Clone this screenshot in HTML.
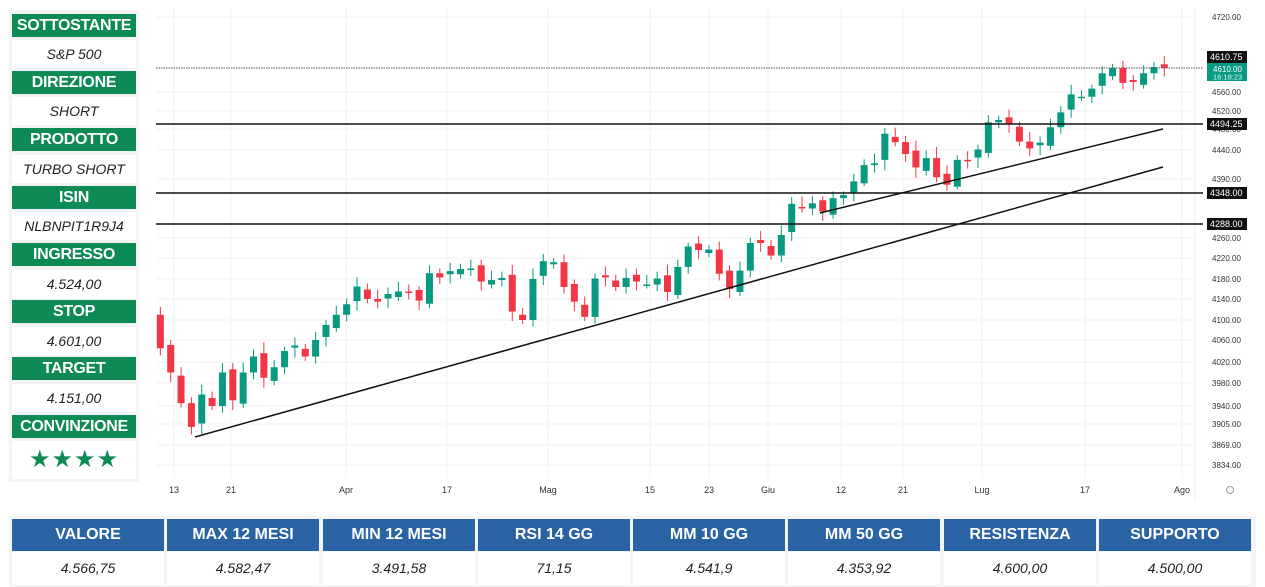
<!DOCTYPE html><html><head><meta charset="utf-8"><style>
html,body{margin:0;width:1265px;height:587px;overflow:hidden}
body{background:#fff;font-family:"Liberation Sans",sans-serif;position:relative}
.lp{position:absolute;left:9px;top:10px;width:130px;height:472px;background:#f3f5f4}
.h{position:absolute;left:12px;width:124px;height:23px;background:#0e8a55;color:#fff;font-weight:bold;font-size:16px;text-align:center;line-height:23px;letter-spacing:-0.3px}
.v{position:absolute;left:12px;width:124px;height:28px;background:#fff;color:#222;font-style:italic;font-size:14px;text-align:center;line-height:28px}
.bt{position:absolute;top:516px;left:9px;width:1247px;height:71px;background:#f3f5f4}
.bh{position:absolute;top:519px;height:32px;background:#2a63a3;color:#fff;font-weight:bold;font-size:16px;text-align:center;line-height:32px;width:152px}
.bv{position:absolute;top:552px;height:33px;background:#fff;color:#222;font-style:italic;font-size:14px;text-align:center;line-height:33px;width:152px}
svg{position:absolute;left:0;top:0}
</style></head><body>
<div class="lp"></div>
<div class="h" style="top:14px">SOTTOSTANTE</div><div class="v" style="top:40px">S&amp;P 500</div>
<div class="h" style="top:71px">DIREZIONE</div><div class="v" style="top:97px">SHORT</div>
<div class="h" style="top:128px">PRODOTTO</div><div class="v" style="top:155px">TURBO SHORT</div>
<div class="h" style="top:186px">ISIN</div><div class="v" style="top:212px">NLBNPIT1R9J4</div>
<div class="h" style="top:243px">INGRESSO</div><div class="v" style="top:270px">4.524,00</div>
<div class="h" style="top:300px">STOP</div><div class="v" style="top:327px">4.601,00</div>
<div class="h" style="top:357px">TARGET</div><div class="v" style="top:384px">4.151,00</div>
<div class="h" style="top:415px">CONVINZIONE</div><div class="v" style="top:441px;height:38px;line-height:38px;font-style:normal;color:#0e8a55;font-size:24px;letter-spacing:1px">★★★★</div>
<div class="bt"></div>
<div class="bh" style="left:12px">VALORE</div><div class="bv" style="left:12px">4.566,75</div>
<div class="bh" style="left:167px">MAX 12 MESI</div><div class="bv" style="left:167px">4.582,47</div>
<div class="bh" style="left:323px">MIN 12 MESI</div><div class="bv" style="left:323px">3.491,58</div>
<div class="bh" style="left:478px">RSI 14 GG</div><div class="bv" style="left:478px">71,15</div>
<div class="bh" style="left:633px">MM 10 GG</div><div class="bv" style="left:633px">4.541,9</div>
<div class="bh" style="left:788px">MM 50 GG</div><div class="bv" style="left:788px">4.353,92</div>
<div class="bh" style="left:944px">RESISTENZA</div><div class="bv" style="left:944px">4.600,00</div>
<div class="bh" style="left:1099px">SUPPORTO</div><div class="bv" style="left:1099px">4.500,00</div>
<svg id="s" width="1265" height="505" xmlns="http://www.w3.org/2000/svg" font-family="Liberation Sans, sans-serif"></svg>
<script>
var T=[[4720,17],[4610,68],[4560,92],[4520,111],[4480,129],[4440,150],[4390,179],[4348,193],[4288,224],[4260,238],[4220,258],[4180,279],[4140,299],[4100,320],[4060,340],[4020,362],[3980,383],[3940,406],[3905,424],[3869,445],[3834,465]];
function Y(p){for(var i=0;i<T.length-1;i++){var a=T[i],b=T[i+1];if(p<=a[0]&&p>=b[0])return a[1]+(a[0]-p)/(a[0]-b[0])*(b[1]-a[1]);}return p>4720?17-(p-4720)*0.5:465+(3834-p)*0.55;}
var c=[4110,4045,4000,3945,3900,3960,3940,4000,3950,4000,4030,3990,4010,4040,4050,4030,4060,4090,4110,4130,4165,4140,4135,4150,4155,4152,4137,4191,4183,4195,4199,4200,4175,4178,4182,4116,4100,4180,4214,4212,4164,4135,4106,4181,4183,4164,4182,4175,4169,4181,4154,4203,4243,4236,4237,4190,4160,4196,4250,4250,4225,4266,4327,4318,4328,4312,4338,4344,4383,4414,4417,4471,4455,4433,4410,4426,4393,4373,4423,4421,4441,4495,4500,4491,4456,4443,4454,4484,4517,4555,4550,4567,4599,4610,4579,4581,4599,4612,4610];
var s='',st=document.getElementById('s');
for(var i=0;i<T.length;i++){if([4610,4348,4288].indexOf(T[i][0])<0)s+='<line x1="156" x2="1195" y1="'+T[i][1]+'" y2="'+T[i][1]+'" stroke="#f0f2f5"/>';}
var xl=[[174,'13'],[231,'21'],[346,'Apr'],[447,'17'],[548,'Mag'],[650,'15'],[709,'23'],[768,'Giu'],[841,'12'],[903,'21'],[982,'Lug'],[1085,'17'],[1182,'Ago']];
xl.forEach(function(a){s+='<line x1="'+a[0]+'" x2="'+a[0]+'" y1="8" y2="478" stroke="#f0f2f5"/><text x="'+a[0]+'" y="493" font-size="9" fill="#333" text-anchor="middle">'+a[1]+'</text>';});
s+='<line x1="1195" x2="1195" y1="8" y2="500" stroke="#eee"/>';
for(var i=1;i<c.length;i++){var o=c[i-1]+(i%3-1)*6,cl=c[i],x=150+i*10.35,up=cl>=o,col=up?'#089981':'#f23645';
var hi=Math.max(o,cl)+8+(i*7%13),lo=Math.min(o,cl)-8-(i*5%15);
var y1=Y(Math.max(o,cl)),y2=Y(Math.min(o,cl));if(y2-y1<1.5)y2=y1+1.5;
s+='<line x1="'+x+'" x2="'+x+'" y1="'+Y(hi)+'" y2="'+Y(lo)+'" stroke="'+col+'"/><rect x="'+(x-3.5)+'" y="'+y1+'" width="7" height="'+(y2-y1)+'" fill="'+col+'"/>';}
s+='<line x1="156" x2="1203" y1="68" y2="68" stroke="#555" stroke-dasharray="1.5 1"/>';
[124,193,224].forEach(function(y){s+='<line x1="156" x2="1203" y1="'+y+'" y2="'+y+'" stroke="#111" stroke-width="1.6"/>';});
s+='<line x1="195" y1="437" x2="1163" y2="167" stroke="#111" stroke-width="1.5"/><line x1="820" y1="213" x2="1163" y2="129" stroke="#111" stroke-width="1.5"/>';
T.forEach(function(a){if([4610,4348,4288].indexOf(a[0])<0)s+='<text x="1212" y="'+(a[1]+3)+'" font-size="8" fill="#333">'+a[0].toFixed(2)+'</text>';});
s+='<rect x="1207" y="63" width="40" height="18" fill="#089981"/><text x="1213" y="72" font-size="8" fill="#fff">4610.00</text><text x="1213" y="79.5" font-size="7.5" fill="#e0fff5">16:18:23</text>';
[[57,'4610.75'],[124,'4494.25'],[193,'4348.00'],[224,'4288.00']].forEach(function(a){s+='<rect x="1207" y="'+(a[0]-6)+'" width="40" height="12" fill="#111"/><text x="1210" y="'+(a[0]+3)+'" font-size="9" fill="#fff">'+a[1]+'</text>';});
s+='<circle cx="1230" cy="490" r="3.5" fill="none" stroke="#999"/>';
st.innerHTML=s;
</script>
</body></html>
